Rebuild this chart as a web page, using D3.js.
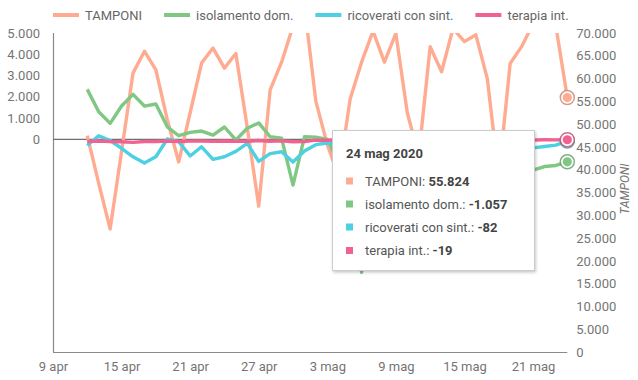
<!DOCTYPE html>
<html><head><meta charset="utf-8">
<script src="https://cdn.jsdelivr.net/npm/d3@7"></script>
<style>body{margin:0;background:#fff}svg{display:block;font-family:Roboto,"Noto Sans",sans-serif}</style>
</head><body><svg id="c" width="638" height="380"></svg>
<script>
const dates = ["2020-04-12","2020-04-13","2020-04-14","2020-04-15","2020-04-16","2020-04-17","2020-04-18","2020-04-19","2020-04-20","2020-04-21","2020-04-22","2020-04-23","2020-04-24","2020-04-25","2020-04-26","2020-04-27","2020-04-28","2020-04-29","2020-04-30","2020-05-01","2020-05-02","2020-05-03","2020-05-04","2020-05-05","2020-05-06","2020-05-07","2020-05-08","2020-05-09","2020-05-10","2020-05-11","2020-05-12","2020-05-13","2020-05-14","2020-05-15","2020-05-16","2020-05-17","2020-05-18","2020-05-19","2020-05-20","2020-05-21","2020-05-22","2020-05-23","2020-05-24"];
const tamponi = [47500,37000,27000,44000,61200,66000,61900,51000,41700,52500,63400,66700,62300,65500,49200,32000,57500,63600,71500,76000,55000,45500,38500,55500,63600,70400,63600,69900,52500,43000,67000,61500,71000,68100,69600,60000,38500,63300,67000,72000,75000,71500,55824];
const isolamento = [2350,1300,750,1565,2115,1565,1660,590,170,330,390,200,580,-30,520,770,120,50,-2150,120,100,0,-1100,-1500,-6250,-1800,-1200,-1800,-600,-1500,-2500,-2300,-2000,-2700,-2400,-1700,-1300,-2700,-1900,-1450,-1280,-1230,-1057];
const ricoverati = [-290,165,-55,-420,-820,-1110,-820,15,-110,-785,-350,-940,-820,-565,-190,-1035,-670,-585,-1070,-550,-250,-170,-240,-1000,-600,-850,-1000,-370,-500,-480,-800,-700,-500,-600,-500,-300,-650,-550,-450,-400,-340,-270,-82];
const terapia = [-100,-75,-105,-115,-145,-100,-105,-75,-100,-85,-75,-95,-75,-90,-90,-55,-90,-70,-115,-100,-40,-40,-25,-60,-70,-50,-40,-85,-50,-35,-65,-55,-45,-20,-45,-20,-13,-33,-37,-36,-19,-24,-19];
const seriesNames = ["TAMPONI","isolamento dom.","ricoverati con sint.","terapia int."];
const seriesColors = ["#ffab91","#81c784","#4dd0e1","#f06292"];
const seriesAxis = ["right","left","left","left"];
const leftTicks = [0,1000,2000,3000,4000,5000];
const rightTicks = [0,5000,10000,15000,20000,25000,30000,35000,40000,45000,50000,55000,60000,65000,70000];
const xTicks = ["2020-04-09","2020-04-15","2020-04-21","2020-04-27","2020-05-03","2020-05-09","2020-05-15","2020-05-21"];
const xDomain = ["2020-04-09","2020-05-24"];
const leftDomain = [-10000,5000];
const rightDomain = [0,70000];
const rightTitle = "TAMPONI";
const tooltipTitle = "24 mag 2020";
const monthsIt = ["gen","feb","mar","apr","mag","giu","lug","ago","set","ott","nov","dic"];

const parse = d3.timeParse("%Y-%m-%d");
const loc = d3.formatLocale({decimal:",",thousands:".",grouping:[3],currency:["€",""],minus:"-"});
const fmt = loc.format(",d");

const svg = d3.select("#c");
const L = 53, R = 567.3, T = 33, B = 352;
const x = d3.scaleTime().domain(xDomain.map(parse)).range([L,R]);
const yL = d3.scaleLinear().domain(leftDomain).range([B,T]);
const yR = d3.scaleLinear().domain(rightDomain).range([B,T]);
const txt = "#757575";

const defs = svg.append("defs");
defs.append("clipPath").attr("id","clip").append("rect").attr("x",L).attr("y",T).attr("width",R-L+10).attr("height",B-T);
const f = defs.append("filter").attr("id","sh").attr("x","-10%").attr("y","-10%").attr("width","130%").attr("height","130%");
f.append("feDropShadow").attr("dx",1).attr("dy",1.5).attr("stdDeviation",1.5).attr("flood-color","#000").attr("flood-opacity",0.22);

// axes
const gL = svg.append("g").attr("transform",`translate(${L},0)`)
  .call(d3.axisLeft(yL).tickValues(leftTicks).tickSize(0).tickPadding(13).tickFormat(fmt));
const gR = svg.append("g").attr("transform",`translate(${R},0)`)
  .call(d3.axisRight(yR).tickValues(rightTicks).tickSize(0).tickPadding(9).tickFormat(fmt));
const gB = svg.append("g").attr("transform",`translate(0,${B})`)
  .call(d3.axisBottom(x).tickValues(xTicks.map(parse)).tickSize(0).tickPadding(10)
    .tickFormat(d => d.getDate()+" "+monthsIt[d.getMonth()]));
[gL,gR,gB].forEach(g => {
  g.select(".domain").remove();
  g.selectAll("text").attr("fill",txt).style("font-size","13px").style("font-family","Roboto");
});

svg.append("line").attr("x1",L+0.5).attr("x2",L+0.5).attr("y1",T).attr("y2",B).attr("stroke","#8a8a8a").attr("stroke-width",1.2);
svg.append("line").attr("x1",L).attr("x2",R).attr("y1",B+0.5).attr("y2",B+0.5).attr("stroke","#8a8a8a").attr("stroke-width",1.2);
svg.append("line").attr("x1",L).attr("x2",R).attr("y1",yL(0)).attr("y2",yL(0)).attr("stroke","#6f6f6f").attr("stroke-width",1.2);

// right title
svg.append("text").attr("transform",`translate(629,189) rotate(-90)`).attr("text-anchor","middle")
  .attr("fill",txt).style("font-size","12px").style("font-style","italic").text(rightTitle);

// series
const allVals = [tamponi, isolamento, ricoverati, terapia];
const dts = dates.map(parse);
const plot = svg.append("g").attr("clip-path","url(#clip)");
allVals.forEach((vals,i) => {
  const ys = seriesAxis[i]==="right" ? yR : yL;
  const line = d3.line().x((d,j)=>x(dts[j])).y(d=>ys(d));
  plot.append("path").datum(vals).attr("d",line).attr("fill","none")
    .attr("stroke",seriesColors[i]).attr("stroke-width",3.4).attr("stroke-linejoin","round");
});

// legend
let lx = 53;
const ly = 15;
seriesNames.forEach((n,i) => {
  svg.append("line").attr("x1",lx).attr("x2",lx+26).attr("y1",ly).attr("y2",ly)
    .attr("stroke",seriesColors[i]).attr("stroke-width",4);
  const t = svg.append("text").attr("x",lx+32).attr("y",ly+4.6).attr("fill","#666")
    .style("font-size","13px").text(n);
  lx = lx + 32 + t.node().getComputedTextLength() + 22;
});

// tooltip
const tg = svg.append("g");
tg.append("rect").attr("x",332.5).attr("y",130.5).attr("width",202).attr("height",140)
  .attr("fill","#fff").attr("stroke","#cccccc").attr("filter","url(#sh)");
tg.append("text").attr("x",346).attr("y",157.5).attr("fill","#444").style("font-size","13px")
  .style("font-weight","bold").text(tooltipTitle);
const last = dts.length-1;
const rowY = [181,204,227,250.5];
seriesNames.forEach((n,i) => {
  tg.append("rect").attr("x",346).attr("y",rowY[i]-3.5).attr("width",7).attr("height",7).attr("fill",seriesColors[i]);
  const t = tg.append("text").attr("x",365).attr("y",rowY[i]+4.6).style("font-size","13px").attr("fill","#555");
  t.append("tspan").text(n+": ");
  t.append("tspan").attr("font-weight","bold").attr("fill","#444").text(fmt(allVals[i][last]));
});

// focus markers
allVals.forEach((vals,i) => {
  const ys = seriesAxis[i]==="right" ? yR : yL;
  const cx = x(dts[last]), cy = ys(vals[last]);
  svg.append("circle").attr("cx",cx).attr("cy",cy).attr("r",7).attr("fill","#fff")
    .attr("stroke",d3.color(seriesColors[i]).darker(0.7)).attr("stroke-width",1.5).attr("stroke-opacity",0.8);
  svg.append("circle").attr("cx",cx).attr("cy",cy).attr("r",4.6).attr("fill",seriesColors[i]);
});
</script></body></html>
